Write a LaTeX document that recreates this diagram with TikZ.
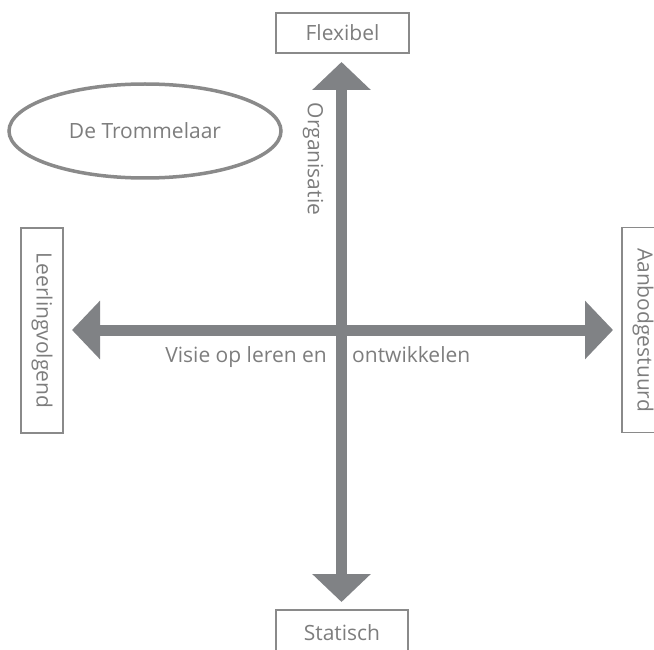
\documentclass[tikz,border=0pt]{standalone}
\usepackage{fontspec}
\setmainfont{Open Sans}
\usetikzlibrary{arrows.meta,shapes.geometric}
\definecolor{axisgray}{HTML}{808285}
\definecolor{textgray}{HTML}{7D7D7D}
\definecolor{framegray}{HTML}{8A8A8A}

\begin{document}
\begin{tikzpicture}[x=1pt,y=-1pt,
  lbl/.style={text=textgray, font=\fontsize{21}{25}\selectfont, inner sep=0pt},
  pole/.style={draw=framegray, line width=1.5pt, lbl},
  axis/.style={draw=axisgray, line width=11pt,
    {Triangle[width=57pt,length=28pt]}-{Triangle[width=57pt,length=28pt]}},
  ]
\clip (0,0) rectangle (654,650);

% the four poles of the two axes
\node[pole, minimum width=133pt, minimum height=40pt] (flex) at (342.5,33) {Flexibel};
\node[pole, minimum width=132pt, minimum height=46pt] (stat) at (342,633) {Statisch};
\node[pole, rotate=-90, minimum width=205pt, minimum height=42pt] (leer) at (42,330.5) {Leerlingvolgend};
\node[pole, rotate=-90, minimum width=205pt, minimum height=42pt] (aanb) at (643,330) {Aanbodgestuurd};

% the school placed in the upper-left quadrant
\node[draw=framegray, line width=3.5pt, ellipse, minimum width=272pt, minimum height=94pt, lbl] (drum) at (145,131) {De Trommelaar};

% axis end points
\coordinate (n) at (341.5,62);
\coordinate (s) at (341.5,602);
\coordinate (w) at (72,330);
\coordinate (e) at (613,330);

\draw[axis] (w) -- (e);
\draw[axis] (s) -- (n);

% axis titles
\node[lbl, rotate=-90] (org) at (313,159) {Organisatie};
\node[lbl, anchor=base east] (visie) at (327,362) {Visie op leren en};
\node[lbl, anchor=base west] (ontw) at (352,362) {ontwikkelen};
\end{tikzpicture}
\end{document}
